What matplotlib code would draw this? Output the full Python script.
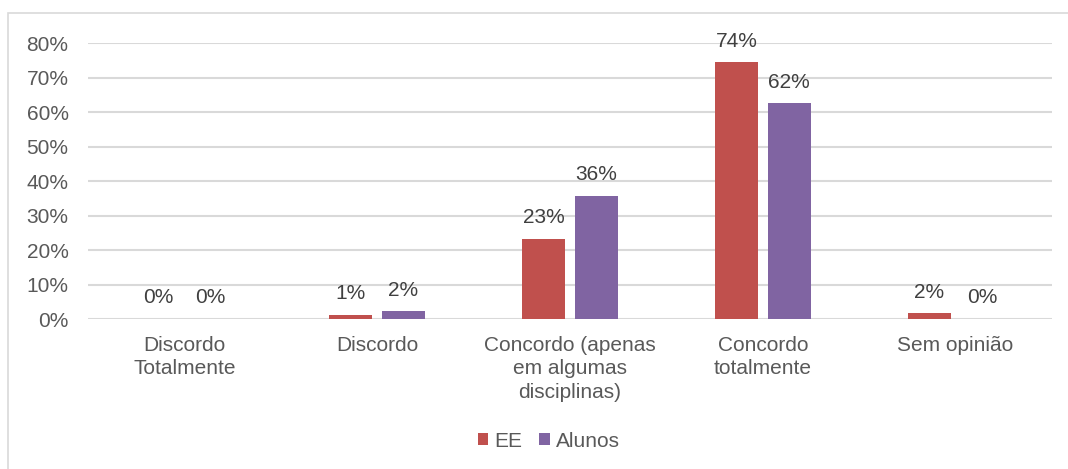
import matplotlib
matplotlib.use("Agg")
import matplotlib.pyplot as plt
from matplotlib.patches import Rectangle
from matplotlib.ticker import PercentFormatter
import numpy as np

categories = ["Discordo\nTotalmente", "Discordo", "Concordo (apenas\nem algumas\ndisciplinas)",
              "Concordo\ntotalmente", "Sem opinião"]
ee_values = [0.0, 1.2, 23.1, 74.4, 1.6]
alunos_values = [0.0, 2.2, 35.7, 62.5, 0.0]
ee_labels = ["0%", "1%", "23%", "74%", "2%"]
alunos_labels = ["0%", "2%", "36%", "62%", "0%"]
series_names = ["EE", "Alunos"]
yticks = [0, 10, 20, 30, 40, 50, 60, 70, 80]

plt.rcParams['font.family'] = ['Liberation Sans', 'DejaVu Sans']

W, H = 1068, 469
fig = plt.figure(figsize=(W / 100, H / 100), dpi=100)
fig.patch.set_facecolor("white")
fig.patches.append(Rectangle((8 / W, -0.05), 1.2, 1 - 13 / H + 0.05, transform=fig.transFigure,
                             fill=False, edgecolor="#D9D9D9", linewidth=1.2))

ax = fig.add_axes([88 / W, 1 - 319 / H, (1052 - 88) / W, (319 - 43) / H])
x = np.arange(len(categories))
w = 0.223
off = 0.136
c_ee = "#C0504D"
c_al = "#8064A2"
b1 = ax.bar(x - off, ee_values, w, color=c_ee, label=series_names[0], zorder=3)
b2 = ax.bar(x + off, alunos_values, w, color=c_al, label=series_names[1], zorder=3)

for xs, vals, labs in [(x - off, ee_values, ee_labels), (x + off, alunos_values, alunos_labels)]:
    for xi, v, lab in zip(xs, vals, labs):
        ax.annotate(lab, (xi, v), xytext=(0, 8.5), textcoords="offset points",
                    ha="center", va="bottom", fontsize=15, color="#404040")

ax.set_xlim(-0.5, len(categories) - 0.5)
ax.set_ylim(0, 80)
ax.set_yticks(yticks)
ax.yaxis.set_major_formatter(PercentFormatter(decimals=0))
ax.set_xticks(x)
ax.set_xticklabels(categories, fontsize=15, color="#595959", linespacing=1.31)
ax.tick_params(axis="y", labelsize=15, labelcolor="#595959", length=0, pad=14)
ax.tick_params(axis="x", length=0, pad=12)
ax.grid(axis="y", color="#D9D9D9", linewidth=1.5, zorder=0)
for s in ax.spines.values():
    s.set_visible(False)

fig.legend(handles=[b1, b2], labels=series_names, loc="center", bbox_to_anchor=(549 / W, 1 - 441 / H),
           ncol=2, frameon=False, fontsize=15, handlelength=0.5, handleheight=0.5,
           handletextpad=0.3, columnspacing=0.8, labelcolor="#595959")

fig.savefig("out.png", dpi=100, facecolor="white")
